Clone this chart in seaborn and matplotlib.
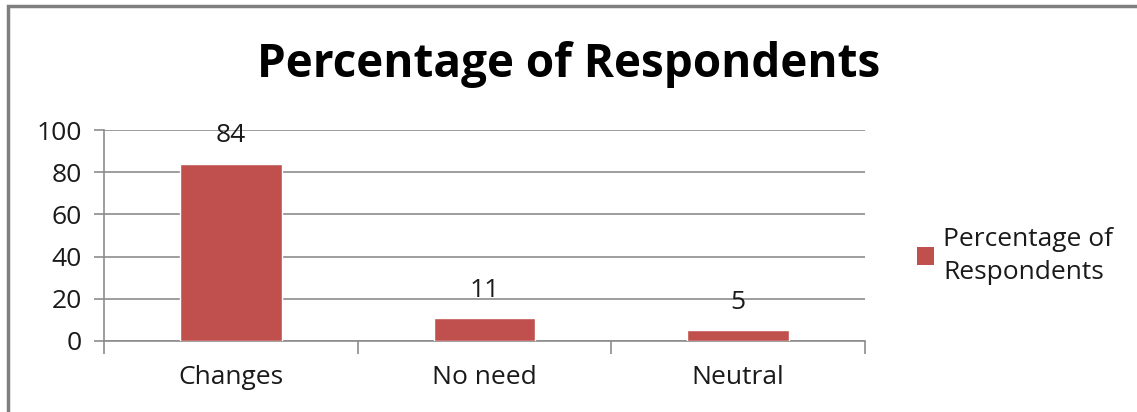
import matplotlib
matplotlib.use("Agg")
import matplotlib.pyplot as plt
from matplotlib.patches import Rectangle, Patch
from matplotlib.ticker import FixedLocator, NullFormatter
import seaborn as sns
import pandas as pd

categories = ["Changes", "No need", "Neutral"]
values = [84, 11, 5]
series_name = "Percentage of Respondents"
yticks = [0, 20, 40, 60, 80, 100]

sns.set_theme(style="white")
plt.rcParams["font.family"] = ["Open Sans", "DejaVu Sans"]

bar_color = "#C0504D"
grid_color = "#8C8C8C"
text_color = "#1A1A1A"

df = pd.DataFrame({"category": categories, "value": values})

fig = plt.figure(figsize=(11.37, 4.12), dpi=100)
ax = fig.add_axes([104 / 1137, 1 - 341 / 412, (865 - 104) / 1137, (341 - 130) / 412])

sns.barplot(data=df, x="category", y="value", color=bar_color, width=0.4,
            saturation=1, ax=ax, zorder=3)

ax.set_ylim(0, 100)
ax.set_xlim(-0.5, len(categories) - 0.5)
ax.set_yticks(yticks)
ax.set_xlabel("")
ax.set_ylabel("")
ax.yaxis.grid(True, color=grid_color, linewidth=1.2, zorder=0)
ax.set_axisbelow(True)

for side in ["top", "right"]:
    ax.spines[side].set_visible(False)
for side in ["left", "bottom"]:
    ax.spines[side].set_color(grid_color)
    ax.spines[side].set_linewidth(1.2)

ax.tick_params(axis="y", which="major", direction="out", length=7, width=1.2,
               color=grid_color, left=True, labelsize=19, pad=9, labelcolor=text_color)
ax.tick_params(axis="x", which="major", length=0, labelsize=19, pad=17, labelcolor=text_color)
# tick marks at the category boundaries
ax.xaxis.set_minor_locator(FixedLocator([-0.5, 0.5, 1.5, 2.5]))
ax.xaxis.set_minor_formatter(NullFormatter())
ax.tick_params(axis="x", which="minor", direction="out", length=9, width=1.2,
               color=grid_color, bottom=True)

for i, v in enumerate(values):
    ax.annotate(f"{v}", xy=(i, v), xytext=(0, 20), textcoords="offset points",
                ha="center", va="center", fontsize=19, color=text_color)

fig.text(0.5, 1 - 64 / 412, series_name, ha="center", va="center",
         fontsize=33, fontweight="bold", color="#000000")

handle = Patch(facecolor=bar_color, edgecolor="none")
leg = fig.legend([handle], ["Percentage of\nRespondents"], loc="center left",
                 bbox_to_anchor=(893 / 1137, 1 - 256 / 412), frameon=False,
                 fontsize=19, handlelength=0.65, handleheight=0.65, handletextpad=0.35,
                 labelcolor=text_color)
for t in leg.get_texts():
    t.set_linespacing(1.45)

# outer chart frame
fig.patches.append(Rectangle((8 / 1137, -0.1), 1.2, 1 - 6 / 412 + 0.1,
                             transform=fig.transFigure, fill=False,
                             edgecolor="#7F7F7F", linewidth=2.5))

fig.savefig("out.png", dpi=100, facecolor="white")
